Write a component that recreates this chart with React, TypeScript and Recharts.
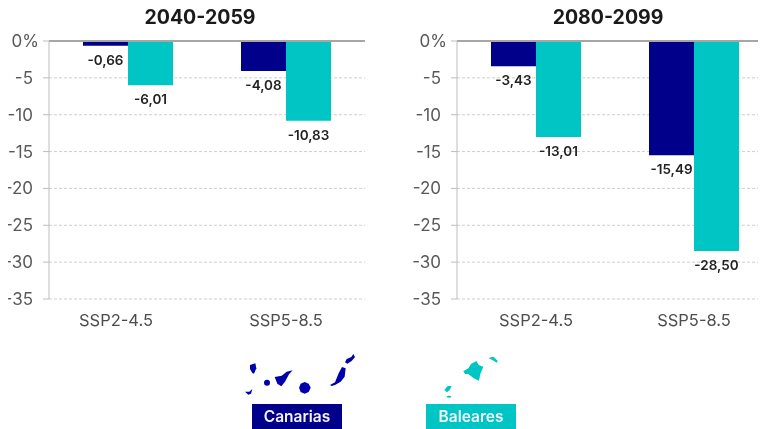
import React from 'react';
import { BarChart, Bar, XAxis, YAxis, CartesianGrid, LabelList, ReferenceLine } from 'recharts';

const FONT = 'Inter, "Open Sans", sans-serif';
const CANARIAS = '#00008b';
const BALEARES = '#00c5c5';

const scenarios = ['SSP2-4.5', 'SSP5-8.5'];
const canarias2040 = [-0.66, -4.08];
const baleares2040 = [-6.01, -10.83];
const canarias2080 = [-3.43, -15.49];
const baleares2080 = [-13.01, -28.5];
const yTicks = [0, -5, -10, -15, -20, -25, -30, -35];

const toRows = (can: number[], bal: number[]) =>
  scenarios.map((name, i) => ({ name, canarias: can[i], baleares: bal[i] }));

const fmt = (v: any) => Number(v).toFixed(2).replace('.', ',');

const BarLabel = (props: any) => {
  const { x, y, width, height, value } = props;
  const bottom = Math.max(y, y + height);
  return (
    <text x={x + width / 2} y={bottom + 14} dy={5} textAnchor="middle" fontSize={13.5} fontWeight={600} fill="#222" fontFamily={FONT}>
      {fmt(value)}
    </text>
  );
};

// the 0% label sits further right than the plain numbers in the original
const YTick = ({ y, payload }: any) => (
  <text x={payload.value === 0 ? 39 : 33} y={y} dy={6} textAnchor="end" fontSize={17} fill="#595959" fontFamily={FONT}>
    {payload.value === 0 ? '0%' : payload.value}
  </text>
);

const Panel = ({ title, left, titleLeft, firstShift, data }: { title: string; left: number; titleLeft: number; firstShift: number; data: any[] }) => {
  const XTick = ({ x, y, payload, index }: any) => (
    <text x={x + (index === 0 ? firstShift : 0)} y={y} dy={19} textAnchor="middle" fontSize={16.5} fill="#4d4d4d" fontFamily={FONT}>
      {payload.value}
    </text>
  );
  return (
    <>
      <div style={{ position: 'absolute', left: titleLeft, top: 4, width: 160, textAlign: 'center', fontFamily: FONT, fontWeight: 700, fontSize: 19.5, color: '#1a1a1a', lineHeight: '26px' }}>
        {title}
      </div>
      <div style={{ position: 'absolute', left, top: 0.6 }}>
        <BarChart width={383} height={340} data={data} margin={{ top: 40, right: 18, bottom: 0, left: 0 }} barGap={0} barCategoryGap={34}>
          <CartesianGrid vertical={false} horizontalValues={yTicks} stroke="#cfcfcf" strokeDasharray="3 2" />
          <XAxis dataKey="name" orientation="bottom" axisLine={false} tickLine={false} height={42} tick={XTick} />
          <YAxis width={49} domain={[-35, 0]} ticks={yTicks} interval={0} stroke="#bdbdbd" tickSize={6} tick={YTick} />
          <Bar dataKey="canarias" fill={CANARIAS} barSize={45} isAnimationActive={false}>
            <LabelList dataKey="canarias" content={BarLabel} />
          </Bar>
          <Bar dataKey="baleares" fill={BALEARES} barSize={45} isAnimationActive={false}>
            <LabelList dataKey="baleares" content={BarLabel} />
          </Bar>
          <ReferenceLine y={0} stroke="#a6a6a6" strokeWidth={2} />
        </BarChart>
      </div>
    </>
  );
};

const LegendBox = ({ label, left, color }: { label: string; left: number; color: string }) => (
  <div style={{ position: 'absolute', left, top: 403.5, width: 90, height: 25.5, background: color, color: '#f4f4ff', fontFamily: FONT, fontWeight: 600, fontSize: 15.5, lineHeight: '26px', textAlign: 'center' }}>
    {label}
  </div>
);

// island outlines, drawn in 3x coordinates
const Islands = () => (
  <>
    <svg width={120} height={55} viewBox="0 0 360 165" style={{ position: 'absolute', left: 240, top: 345 }}>
      <g fill="#0000ac">
        <path d="M30 60 L46 55 L49 70 L42 86 L37 84 L30 72 Z" />
        <circle cx={81} cy={113} r={9} />
        <path d="M15 140 L28 140 L37 132 L33 146 L25 149 Z" />
        <path d="M104 96 L125 92 L140 80 L158 76 L147 88 L135 110 L124 124 L112 116 Z" />
        <path d="M194 111 L206 116 L212 128 L206 141 L194 146 L182 141 L177 128 L182 116 Z" />
        <path d="M270 120 L285 112 L296 85 L306 66 L317 70 L314 95 L302 110 L285 120 L275 123 Z" />
        <path d="M315 52 L320 42 L334 36 L340 27 L345 36 L335 48 L322 56 Z" />
      </g>
    </svg>
    <svg width={70} height={50} viewBox="0 0 210 150" style={{ position: 'absolute', left: 435, top: 350 }}>
      <g fill={BALEARES}>
        <path d="M85 64 L100 55 L108 42 L124 33 L132 46 L145 50 L136 72 L132 92 L115 84 L100 72 L90 72 Z" />
        <path d="M160 24 L175 20 L188 32 L186 38 L172 30 Z" />
        <path d="M28 120 L38 108 L50 108 L44 120 L36 127 Z" />
        <ellipse cx={42} cy={140} rx={7} ry={3} />
      </g>
    </svg>
  </>
);

export default function App() {
  return (
    <div style={{ position: 'relative', width: 766, height: 429, margin: '-8px 0 0 -8px', overflow: 'hidden', background: '#fff', filter: 'blur(0.4px)' }}>
      <Panel title="2040-2059" left={0} titleLeft={120} firstShift={-12} data={toRows(canarias2040, baleares2040)} />
      <Panel title="2080-2099" left={408} titleLeft={528} firstShift={0} data={toRows(canarias2080, baleares2080)} />
      <Islands />
      <LegendBox label="Canarias" left={252} color={CANARIAS} />
      <LegendBox label="Baleares" left={426} color={BALEARES} />
    </div>
  );
}
